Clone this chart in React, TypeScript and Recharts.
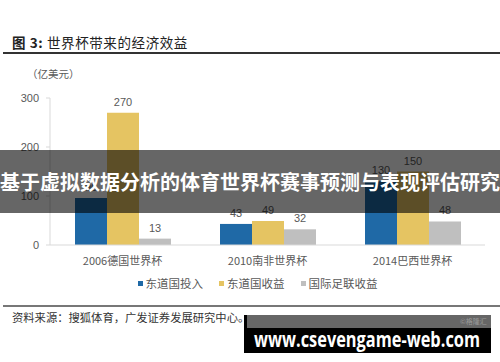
import React from "react";
import { BarChart, Bar, XAxis, YAxis, Legend, LabelList } from "recharts";

const cups = ["2006德国世界杯", "2010南非世界杯", "2014巴西世界杯"];
const hostInput = [96, 43, 130];
const hostIncome = [270, 49, 150];
const fifaIncome = [13, 32, 48];
const yTicks = [0, 100, 200, 300];

const seriesNames = ["东道国投入", "东道国收益", "国际足联收益"];
const seriesColors = ["#1F69A6", "#E5C462", "#BFBFBF"];

const data = cups.map((cup, i) => ({
  cup,
  input: hostInput[i],
  income: hostIncome[i],
  fifa: fifaIncome[i],
}));

const sans = "'Liberation Sans', Arial, 'Noto Sans CJK SC', sans-serif";
const cjk = "'Noto Sans CJK SC', sans-serif";
const grey = "#595959";

function LegendRow({ payload }: any) {
  return (
    <div style={{ display: "flex", justifyContent: "center", gap: 16, paddingLeft: 30, fontFamily: cjk, fontSize: 11.5, color: grey }}>
      {(payload || []).map((p: any) => (
        <span key={p.value} style={{ display: "flex", alignItems: "center" }}>
          <span style={{ width: 5, height: 5, background: p.color, marginRight: 3, display: "inline-block" }} />
          {p.value}
        </span>
      ))}
    </div>
  );
}

export default function App() {
  const keys = ["input", "income", "fifa"];
  return (
    <div style={{ position: "fixed", left: 0, top: 0, width: 500, height: 362, background: "#fff", overflow: "hidden" }}>
      <div style={{ position: "absolute", left: 12, top: 32, fontFamily: cjk, fontSize: 13.5, color: "#222", whiteSpace: "nowrap", letterSpacing: 0.6 }}>
        <b>图 3:</b> 世界杯带来的经济效益
      </div>
      <div style={{ position: "absolute", left: 3, top: 52, width: 497, height: 2, background: "#333" }} />
      <div style={{ position: "absolute", left: 27, top: 66, fontFamily: cjk, fontSize: 10.5, color: grey }}>
        （亿美元）
      </div>

      <div style={{ position: "absolute", left: 0, top: 0 }}>
        <BarChart
          width={500}
          height={300}
          data={data}
          margin={{ top: 98, right: 15, left: 0, bottom: 0 }}
          barGap={0}
          barSize={32}
        >
          <YAxis
            domain={[0, 300]}
            ticks={yTicks}
            width={50}
            axisLine={{ stroke: "#D9D9D9" }}
            tickLine={{ stroke: "#D9D9D9" }}
            tickSize={4}
            tickMargin={7}
            tick={{ fontSize: 11, fill: grey, fontFamily: sans }}
          />
          <XAxis
            dataKey="cup"
            height={22}
            axisLine={{ stroke: "#D9D9D9" }}
            tickLine={false}
            tick={{ fontSize: 11, fill: grey, fontFamily: cjk }}
            tickMargin={6}
          />
          <Legend
            height={33}
            wrapperStyle={{ top: 275 }}
            content={<LegendRow />}
          />
          {keys.map((k, i) => (
            <Bar key={k} dataKey={k} name={seriesNames[i]} fill={seriesColors[i]} isAnimationActive={false}>
              <LabelList dataKey={k} position="top" offset={7} style={{ fontSize: 11, fill: grey, fontFamily: sans }} />
            </Bar>
          ))}
        </BarChart>
      </div>

      <div style={{ position: "absolute", left: 3, top: 305, width: 497, height: 1.5, background: "#777" }} />
      <div style={{ position: "absolute", left: 12, top: 309, fontFamily: cjk, fontSize: 11.3, color: "#333", whiteSpace: "nowrap" }}>
        资料来源：搜狐体育，广发证券发展研究中心。
      </div>

      <div style={{ position: "absolute", left: 0, top: 150, width: 500, height: 63, background: "rgba(0,0,0,0.6)" }} />
      <div style={{ position: "absolute", left: 0, top: 168, width: 500, textAlign: "center", fontFamily: cjk, fontSize: 20, fontWeight: 700, color: "#fff", whiteSpace: "nowrap", lineHeight: "28px" }}>
        基于虚拟数据分析的体育世界杯赛事预测与表现评估研究
      </div>

      <div style={{ position: "absolute", left: 244, top: 315, width: 247, height: 38, background: "#000" }} />
      <div style={{ position: "absolute", left: 247, top: 315, width: 244, height: 13, background: "#666" }} />
      <div style={{ position: "absolute", left: 460, top: 316, fontFamily: cjk, fontSize: 7, color: "#999" }}>©格隆汇</div>
      <svg style={{ position: "absolute", left: 244, top: 315 }} width={247} height={38}>
        <text x={10} y={32} textLength={226} lengthAdjust="spacingAndGlyphs" fill="#fff" fontFamily="'Open Sans', 'DejaVu Sans', sans-serif" fontWeight={700} fontSize={22}>
          www.csevengame-web.com
        </text>
      </svg>
    </div>
  );
}
